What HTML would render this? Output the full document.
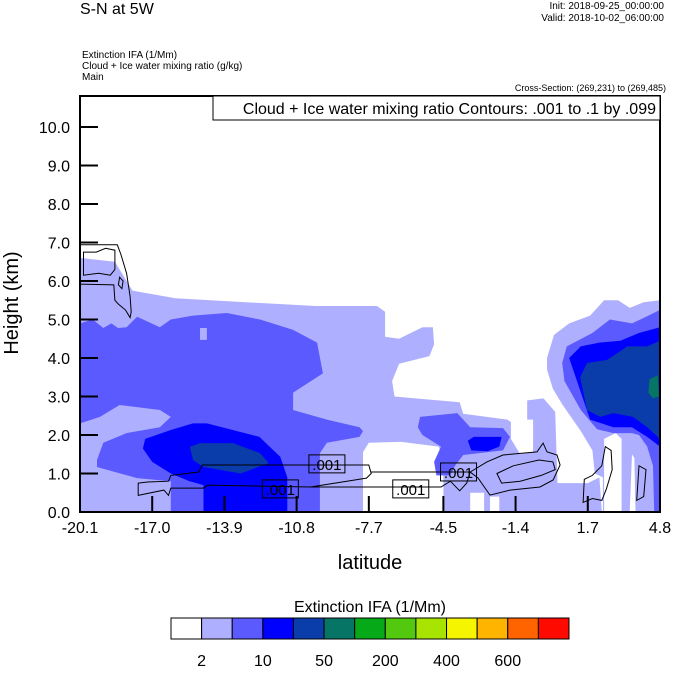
<!DOCTYPE html>
<html><head><meta charset="utf-8"><style>
body{margin:0;background:#fff;}
svg text{font-family:"Liberation Sans",Arial,sans-serif;fill:#000;}
</style></head><body>
<svg id="c" width="674" height="668" viewBox="0 0 674 668" xmlns="http://www.w3.org/2000/svg">
<defs><clipPath id="pc"><rect x="80" y="96" width="580" height="416"/></clipPath></defs>
<text x="80" y="14" font-size="16">S-N at 5W</text>
<text x="664" y="9" font-size="10" text-anchor="end">Init: 2018-09-25_00:00:00</text>
<text x="664" y="21" font-size="10" text-anchor="end">Valid: 2018-10-02_06:00:00</text>
<text x="82" y="58" font-size="10">Extinction IFA   (1/Mm)</text>
<text x="82" y="69" font-size="10">Cloud + Ice water mixing ratio   (g/kg)</text>
<text x="82" y="80" font-size="10">Main</text>
<text x="666" y="91" font-size="9" text-anchor="end">Cross-Section: (269,231) to (269,485)</text>
<g id="fills" clip-path="url(#pc)"></g>
<g id="lines" clip-path="url(#pc)"></g>
<g id="axes"></g>
<rect x="213" y="96" width="447" height="24" fill="#fff" stroke="#000" stroke-width="1"/>
<text x="656" y="114" font-size="16" text-anchor="end">Cloud + Ice water mixing ratio Contours: .001 to .1 by .099</text>
<text transform="translate(18,303) rotate(-90)" font-size="20" text-anchor="middle">Height (km)</text>
<text x="370" y="569" font-size="20" text-anchor="middle">latitude</text>
<text x="370" y="612" font-size="16" text-anchor="middle">Extinction IFA  (1/Mm)</text>
<g id="legend"></g>
</svg>
<script>
const xTicks=[-20.1,-17.0,-13.9,-10.8,-7.7,-4.5,-1.4,1.7,4.8];
const xTickLabels=["-20.1","-17.0","-13.9","-10.8","-7.7","-4.5","-1.4","1.7","4.8"];
const yTicks=[0,1,2,3,4,5,6,7,8,9,10];
const yTickLabels=["0.0","1.0","2.0","3.0","4.0","5.0","6.0","7.0","8.0","9.0","10.0"];
const levelColors=["#FFFFFF","#AFAFFF","#5A5AFF","#0000FF","#0A3CAA","#077565","#06AA18","#52C80E","#A8E402","#F5F500","#FFB400","#FF6400","#FF0A00"];
const legendLabels=["2","10","50","200","400","600"];
// filled regions: level index + polygon in (latitude, height km)
const regionLevels=[1,0,0,0,0,1,1,2,2,1,3,4,2,3,4,5,3];
const regionShapes=[
[[-20.1,0],[-20.1,6.6],[-18.6,6.5],[-18.1,6.0],[-17.85,5.75],[-17.4,5.7],[-16,5.55],[-13,5.45],[-10,5.35],[-7.35,5.35],[-7.0,5.2],[-7.0,4.55],[-6.4,4.5],[-5.4,4.8],[-4.95,4.8],[-4.9,4.35],[-5.1,4.05],[-6.4,3.85],[-6.7,3.4],[-6.6,3.0],[-5.7,2.95],[-3.8,2.85],[-3.65,2.55],[-1.75,2.4],[-1.3,2.2],[-0.9,2.2],[-0.9,2.9],[-0.2,2.95],[0.3,2.6],[0.4,0.75],[1.7,0.75],[2.2,0.9],[2.3,0]],
[[-7.95,0],[-7.95,1.55],[-7.7,1.8],[-6.3,1.82],[-4.7,1.7],[-4.5,1.35],[-4.5,0]],
[[-3.35,0],[-3.35,0.5],[-2.75,0.5],[-2.75,0]],
[[-2.5,0],[-2.5,0.4],[-2.1,0.4],[-2.1,0]],
[[-1.6,2.4],[-0.65,2.4],[-0.65,1.55],[-1.2,1.5],[-1.6,1.9]],
[[4.8,5.5],[4.1,5.45],[3.5,5.3],[3.0,5.5],[2.4,5.5],[1.8,5.1],[0.9,4.9],[0.25,4.6],[-0.05,4.0],[-0.05,3.7],[0.2,3.2],[0.6,2.8],[1.4,2.1],[1.9,1.6],[2.0,1.0],[2.35,0.9],[2.35,0],[2.4,0],[2.4,1.9],[2.9,2.05],[3.15,1.9],[3.15,0],[3.5,0],[3.6,1.5],[3.7,1.4],[3.75,0],[4.8,0]],
[[-14.95,4.78],[-14.65,4.78],[-14.65,4.47],[-14.95,4.47]],
[[-20.1,4.9],[-19.55,5.0],[-19.1,4.78],[-18.75,4.9],[-18.47,4.78],[-18.1,4.8],[-17.65,5.07],[-16.67,4.8],[-16.2,5.0],[-15.25,5.1],[-13.8,5.17],[-12.37,5.0],[-10.95,4.73],[-9.92,4.4],[-9.67,3.6],[-10.95,3.1],[-10.95,2.65],[-9.5,2.4],[-8.1,2.2],[-7.95,2.1],[-8.1,1.95],[-9.5,1.8],[-9.8,1.53],[-9.8,0],[-16.2,0],[-16.2,0.8],[-17.65,0.88],[-19.37,1.17],[-19.37,1.35],[-19.1,1.8],[-18.1,2.05],[-16.67,2.2],[-16.2,2.47],[-16.67,2.65],[-18.4,2.78],[-19.24,2.47],[-20.1,2.3]],
[[-5.5,2.47],[-3.9,2.57],[-3.35,2.2],[-1.94,2.18],[-1.64,1.95],[-1.94,1.6],[-3.65,1.48],[-4.0,1.2],[-4.2,0.95],[-4.8,0.95],[-4.9,1.3],[-4.6,1.7],[-5.4,2.0],[-5.6,2.2]],
[[-14.95,4.78],[-14.65,4.78],[-14.65,4.47],[-14.95,4.47]],
[[-17.3,1.9],[-16.2,2.13],[-15.25,2.3],[-14.65,2.3],[-12.4,1.95],[-11.5,1.43],[-11.2,0.9],[-11.2,0],[-14.8,0],[-14.8,0.7],[-15.4,0.8],[-16.2,1.0],[-17.0,1.3],[-17.4,1.65]],
[[-15.38,1.69],[-14.95,1.79],[-13.53,1.79],[-12.37,1.53],[-12.0,1.27],[-13.2,1.0],[-14.8,1.17],[-15.25,1.35]],
[[0.6,3.87],[0.8,4.3],[1.9,4.65],[2.65,5.0],[3.6,4.9],[4.3,5.1],[4.8,5.25],[4.8,0],[4.55,0],[4.5,1.2],[4.25,1.7],[3.9,2.0],[3.6,2.05],[2.8,2.05],[2.1,2.15],[1.4,2.65],[0.7,3.4]],
[[0.9,4.0],[1.4,4.3],[2.2,4.4],[3.1,4.45],[3.9,4.65],[4.8,4.8],[4.8,1.7],[4.25,1.95],[3.6,2.2],[2.8,2.2],[1.8,2.4],[1.35,3.2]],
[[1.37,3.5],[1.67,3.87],[2.53,3.95],[3.4,4.3],[4.25,4.3],[4.8,4.45],[4.8,1.9],[4.7,1.95],[4.25,2.2],[3.64,2.47],[2.8,2.57],[2.23,2.47],[1.67,2.65]],
[[4.3,3.1],[4.35,3.45],[4.7,3.55],[4.75,3.0],[4.5,2.95]],
[[-3.45,1.85],[-3.2,1.95],[-2.0,1.95],[-2.1,1.7],[-2.6,1.58],[-3.3,1.6]]
];
const contourClosed=[false,true,true,true,false,false,true,true,true,true];
const contourShapes=[
[[-20.1,6.94],[-18.5,6.94],[-18.35,6.7],[-18.1,6.2],[-17.95,5.6],[-17.9,5.2],[-17.95,5.05],[-18.15,5.25],[-18.45,5.4],[-18.6,5.5],[-18.65,5.9],[-20.1,5.92]],
[[-19.95,6.75],[-19.4,6.75],[-19.0,6.85],[-18.6,6.8],[-18.6,6.3],[-18.8,6.15],[-19.3,6.2],[-19.95,6.15]],
[[-18.4,6.1],[-18.25,6.0],[-18.3,5.8],[-18.45,5.9]],
[[-17.6,0.75],[-17.2,0.78],[-16.3,0.8],[-16.2,0.95],[-15.0,1.04],[-14.85,1.22],[-7.7,1.22],[-7.6,1.0],[-7.8,0.88],[-10.2,0.65],[-14.6,0.7],[-14.8,0.62],[-16.2,0.62],[-16.3,0.43],[-16.5,0.57],[-17.6,0.43]],
[[-7.6,1.04],[-3.35,1.04]],
[[-10.2,0.65],[-4.6,0.65],[-4.2,0.8],[-3.8,0.55],[-3.5,0.75],[-3.35,1.04]],
[[-3.35,1.04],[-2.63,1.3],[-1.94,1.48],[-0.48,1.56],[-0.22,1.79],[-0.05,1.56],[0.38,1.48],[0.51,1.22],[0.21,0.83],[-0.35,0.65],[-1.64,0.57],[-2.5,0.44],[-3.01,0.88]],
[[-2.2,1.0],[-1.5,1.2],[-0.4,1.35],[0.2,1.3],[0.3,1.1],[-0.3,0.95],[-1.2,0.8],[-2.0,0.75]],
[[1.5,0.25],[1.55,0.85],[1.9,0.95],[2.3,1.2],[2.45,1.7],[2.7,1.6],[2.75,1.1],[2.5,0.6],[2.3,0.3],[1.9,0.35]],
[[3.8,0.3],[3.9,1.2],[4.2,1.1],[4.1,0.4]]
];
const contourLabels=[".001",".001",".001",".001"];
const contourLabelPos=[[-9.5,1.25],[-11.5,0.6],[-5.9,0.6],[-3.85,1.04]];

const NS="http://www.w3.org/2000/svg";
const X0=80,X1=660,Y0=512,Y1=96;
const xMin=-20.1,xMax=4.8,hMax=416/38.5;
function xs(v){return X0+(v-xMin)/(xMax-xMin)*(X1-X0);}
function ys(v){return Y0-v/hMax*(Y0-Y1);}
function pts(a){return a.map(p=>xs(p[0]).toFixed(1)+","+ys(p[1]).toFixed(1)).join(" ");}
function mk(t,parent){const e=document.createElementNS(NS,t);parent.appendChild(e);return e;}
const fills=document.getElementById("fills");
const bg=mk("rect",fills);
bg.setAttribute("x",X0);bg.setAttribute("y",Y1);bg.setAttribute("width",X1-X0);bg.setAttribute("height",Y0-Y1);bg.setAttribute("fill","#fff");


regionShapes.forEach((s,i)=>{
  const p=mk("polygon",fills);
  p.setAttribute("points",pts(s));
  p.setAttribute("fill",levelColors[regionLevels[i]]);
  
  
});
const lines=document.getElementById("lines");
contourShapes.forEach((s,i)=>{
  const p=mk(contourClosed[i]?"polygon":"polyline",lines);
  p.setAttribute("points",pts(s));
  p.setAttribute("fill","none");p.setAttribute("stroke","#000");p.setAttribute("stroke-width","1");
  
  
});
contourLabels.forEach((t,i)=>{
  const cx=xs(contourLabelPos[i][0]),cy=ys(contourLabelPos[i][1]);
  const r=mk("rect",lines);
  r.setAttribute("x",cx-18);r.setAttribute("y",cy-9);r.setAttribute("width",36);r.setAttribute("height",18);
  r.setAttribute("fill","none");r.setAttribute("stroke","#000");
  
  
  const tx=mk("text",lines);
  tx.setAttribute("x",cx);tx.setAttribute("y",cy+6);tx.setAttribute("font-size","15");tx.setAttribute("text-anchor","middle");
  tx.textContent=t;
  
  
});
const axes=document.getElementById("axes");
const fr=mk("rect",axes);
fr.setAttribute("x",X0);fr.setAttribute("y",Y1);fr.setAttribute("width",X1-X0);fr.setAttribute("height",Y0-Y1);
fr.setAttribute("fill","none");fr.setAttribute("stroke","#000");fr.setAttribute("stroke-width","2");


yTicks.forEach((v,i)=>{
  const y=ys(v);
  const l=mk("line",axes);
  l.setAttribute("x1",X0);l.setAttribute("x2",X0+18);l.setAttribute("y1",y);l.setAttribute("y2",y);l.setAttribute("stroke","#000");l.setAttribute("stroke-width","2");
  
  
  const t=mk("text",axes);
  t.setAttribute("x",70);t.setAttribute("y",y+6);t.setAttribute("font-size","16");t.setAttribute("text-anchor","end");
  t.textContent=yTickLabels[i];
  
  
});
xTicks.forEach((v,i)=>{
  const x=xs(v);
  const l=mk("line",axes);
  l.setAttribute("x1",x);l.setAttribute("x2",x);l.setAttribute("y1",Y0);l.setAttribute("y2",Y0-16);l.setAttribute("stroke","#000");l.setAttribute("stroke-width","2");
  
  
  const t=mk("text",axes);
  t.setAttribute("x",x);t.setAttribute("y",533);t.setAttribute("font-size","16");t.setAttribute("text-anchor","middle");
  t.textContent=xTickLabels[i];
  
  
});
const leg=document.getElementById("legend");
const LX=171,LW=398/levelColors.length;
levelColors.forEach((c,i)=>{
  const r=mk("rect",leg);
  r.setAttribute("x",LX+i*LW);r.setAttribute("y",618);r.setAttribute("width",LW);r.setAttribute("height",21);
  r.setAttribute("fill",c);r.setAttribute("stroke","#000");r.setAttribute("stroke-width","1");
  
  
});
legendLabels.forEach((t,i)=>{
  const tx=mk("text",leg);
  tx.setAttribute("x",LX+(2*i+1)*LW);tx.setAttribute("y",666);tx.setAttribute("font-size","16");tx.setAttribute("text-anchor","middle");
  tx.textContent=t;
  
  
});
</script>
</body></html>
